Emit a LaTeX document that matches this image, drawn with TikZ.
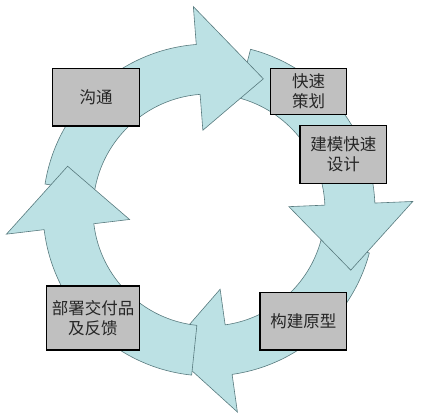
\documentclass[tikz,border=0pt]{standalone}
\usepackage{fontspec}
\newfontfamily\cjkfont{Noto Sans CJK SC}
\usetikzlibrary{calc}
\definecolor{ringfill}{HTML}{BCE1E4}
\definecolor{ringline}{HTML}{587A7E}
\definecolor{boxfill}{HTML}{C0C0C0}
\definecolor{boxtext}{HTML}{262626}
% tail angle, head base angle, tip angle, tip radius
\newcommand{\cyclearrow}[4]{%
 \filldraw[ring] (#1:166pt) arc[start angle=#1,end angle=#2,radius=166pt] -- (#2:204pt) -- (#3:#4pt) -- (#2:80pt) -- (#2:116pt) arc[start angle=#2,end angle=#1,radius=116pt] -- cycle;}

\begin{document}
\begin{tikzpicture}[
 x=1pt,y=1pt,
 ring/.style={fill=ringfill,draw=ringline,line width=0.6pt,line join=miter},
 box/.style={draw=black,line width=1.2pt,fill=boxfill,align=center,inner sep=0pt,text=boxtext,font=\cjkfont\fontsize{16.5}{20}\selectfont}
]
\useasboundingbox (0,0) rectangle (426,413);
\coordinate (ctr) at (209,203);
\begin{scope}[shift={(ctr)}]
\cyclearrow{-15}{-82}{-106.4}{145}
\cyclearrow{75.5}{2.4}{-23}{154}
\cyclearrow{171}{94.4}{67.5}{142}
\cyclearrow{264}{186.8}{162.8}{148}
\end{scope}
\node[box,minimum width=86.6,minimum height=57.7] (comm) at (96,315.8) {沟通};
\node[box,minimum width=76,minimum height=46] (plan) at (308.7,321.7) {快速\\策划};
\node[box,minimum width=86.7,minimum height=57.6] (design) at (343.3,258.5) {建模快速\\设计};
\node[box,minimum width=86.7,minimum height=57.3] (proto) at (303.3,91.7) {构建原型};
\node[box,minimum width=92.6,minimum height=64] (deploy) at (93,95) {部署交付品\\及反馈};
\end{tikzpicture}
\end{document}
